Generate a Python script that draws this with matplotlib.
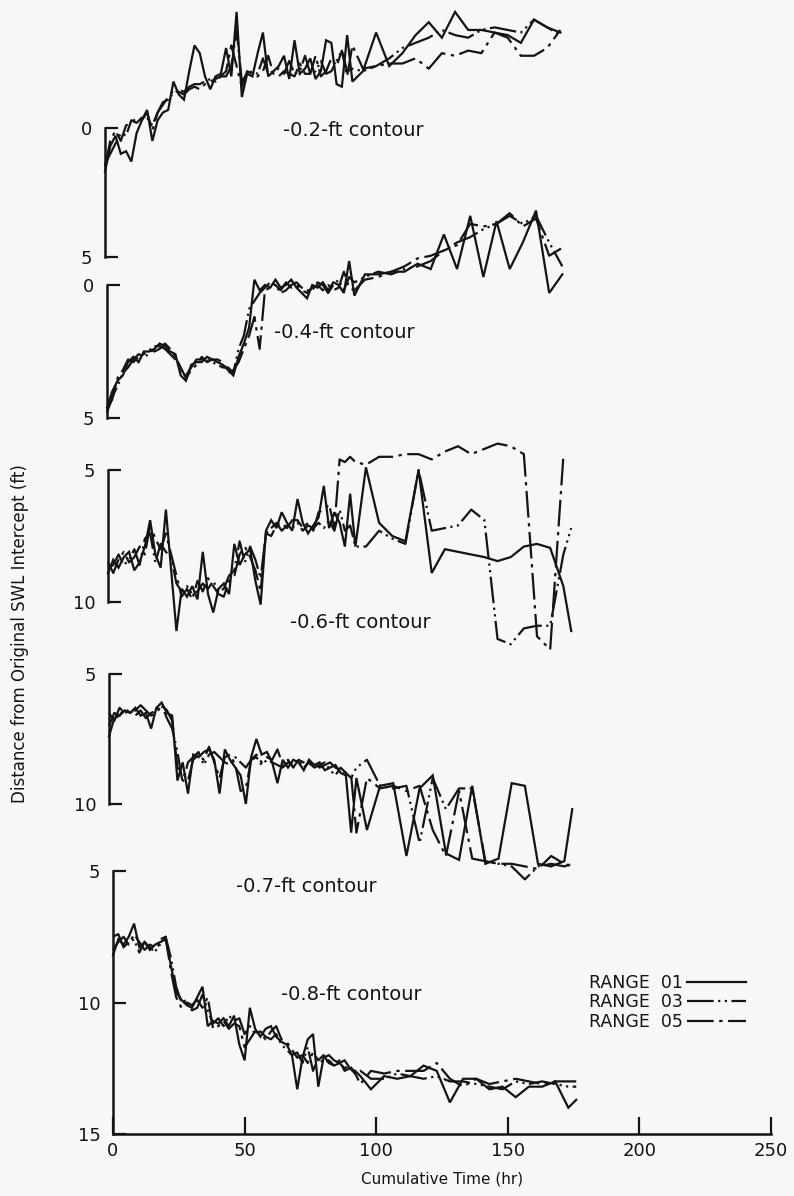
import numpy as np
import matplotlib.pyplot as plt
from matplotlib.lines import Line2D

# cumulative time (hr) of each survey
hours = [0, 2, 4, 6, 8, 10, 12, 14, 16, 18, 20, 22, 24,
         26, 28, 30, 32, 34, 36, 38, 40, 42, 44, 46, 48, 50,
         52, 54, 56, 58, 60, 62, 64, 66, 68, 70, 72, 74, 76,
         78, 80, 82, 84, 86, 88, 90, 92, 94, 98, 103, 108, 113,
         118, 123, 128, 133, 138, 143, 148, 153, 158, 163, 168, 173, 176]

nan = np.nan

# -0.2-ft contour (ft)
c02_r01 = [1.7, 0.7, 0.3, 1.0, 0.9, 1.3, 0.2, -0.3, -0.7, 0.5, -0.3, -0.6, -0.7,
           -1.8, -1.3, -1.1, -2.2, -3.2, -2.9, -2.0, -1.5, -2.0, -2.1, -3.1, -2.0, -4.5,
           -1.2, -2.1, -2.0, -2.9, -3.7, -2.0, -2.2, -2.4, -2.8, -1.9, -3.4, -2.1, -2.3,
           -2.7, -1.9, -2.2, -3.4, -3.3, -1.7, -1.6, -3.6, -1.8, -2.2, -3.7, -2.4, -2.9,
           -3.6, -4.1, -3.5, -4.5, -3.8, -3.8, -3.7, -3.6, -3.3, -4.2, -3.9, -3.7, nan]
c02_r03 = [1.4, 1.0, 0.6, 0.2, 0.3, -0.3, -0.2, -0.4, -0.4, -0.1, -0.6, -0.9, -1.2,
           -1.3, -1.5, -1.4, -1.6, -1.7, -1.7, -1.8, -1.9, -1.8, -2.0, -2.0, -2.4, -3.8,
           -1.8, -2.1, -2.2, -2.1, -2.7, -2.1, -2.2, -2.3, -2.1, -2.6, -2.1, -2.2, -2.8,
           -2.1, -2.2, -2.6, -2.1, -2.2, -2.6, -3.0, -2.2, -2.3, -2.2, -2.4, -2.7, -3.1,
           -3.3, -3.5, -3.8, -3.6, -3.5, -3.8, -3.9, -3.8, -3.7, -4.2, -3.9, -3.6, nan]
c02_r05 = [1.5, 0.5, 0.1, 0.5, -0.1, -0.2, -0.4, -0.3, -0.6, 0.1, -0.6, -1.0, -1.1,
           -1.5, -1.4, -1.3, -1.5, -1.6, -1.5, -1.7, -1.8, -1.9, -2.0, -2.2, -3.2, -2.4,
           -1.6, -2.2, -2.1, -2.0, -2.2, -2.8, -2.1, -2.0, -2.2, -2.1, -2.0, -2.5, -2.1,
           -2.1, -2.8, -2.0, -2.2, -2.7, -2.4, -3.0, -2.0, -3.2, -2.3, -2.4, -2.5, -2.5,
           -2.7, -2.3, -2.9, -2.8, -3.0, -2.9, -3.7, -3.5, -2.8, -2.8, -3.1, -3.8, nan]

# -0.4-ft contour (ft)
c04_r01 = [4.6, 4.0, 3.6, 3.4, 2.9, 2.7, 2.9, 2.5, 2.5, 2.4, 2.2, 2.3, 2.5,
           2.6, 3.4, 3.6, 3.0, 2.9, 2.9, 2.7, 2.8, 2.9, 3.0, 3.2, 3.4, 2.7,
           2.2, 1.6, -0.2, 0.2, 0.0, 0.1, -0.2, 0.1, 0.0, -0.2, 0.1, 0.3, 0.5,
           0.0, 0.1, -0.1, 0.2, -0.1, 0.0, 0.3, -0.9, 0.4, -0.4, -0.4, -0.5, -0.5,
           -0.8, -0.6, -1.9, -0.6, -2.6, -0.3, -2.4, -0.6, -1.6, -2.8, 0.3, -0.4, nan]
c04_r03 = [4.8, 4.2, 3.8, 3.3, 3.1, 2.8, 2.6, 2.7, 2.6, 2.3, 2.3, 2.4, 2.6,
           2.8, 3.2, 3.4, 3.1, 2.8, 2.8, 2.8, 2.9, 3.0, 3.1, 3.1, 3.3, 2.4,
           1.9, 0.9, 0.6, 0.3, 0.1, -0.1, 0.0, 0.3, 0.2, 0.0, -0.1, 0.1, 0.2,
           0.2, -0.1, 0.0, 0.3, 0.0, -0.2, 0.2, -0.3, -0.1, -0.3, -0.5, -0.4, -0.6,
           -0.7, -0.9, -1.3, -1.6, -1.8, -2.1, -2.3, -2.6, -2.3, -2.6, -1.6, -0.7, nan]
c04_r05 = [4.7, 4.3, 3.5, 3.2, 2.8, 2.9, 2.7, 2.6, 2.4, 2.5, 2.4, 2.2, 2.4,
           2.7, 3.1, 3.5, 3.2, 3.0, 2.7, 2.9, 2.8, 2.8, 2.9, 3.3, 3.2, 2.9,
           2.4, 1.9, 1.2, 2.4, 0.2, 0.1, 0.0, 0.2, -0.1, 0.1, 0.0, 0.2, 0.3,
           0.1, 0.0, 0.2, 0.0, 0.2, 0.1, -0.5, 0.1, 0.2, -0.2, -0.3, -0.5, -0.7,
           -1.0, -1.1, -1.3, -1.5, -2.3, -2.2, -2.3, -2.7, -2.2, -2.5, -1.1, -1.4, nan]

# -0.6-ft contour (ft)
c06_r01 = [8.9, 8.4, 8.7, 8.3, 8.1, 8.8, 8.5, 7.9, 6.9, 8.2, 8.7, 6.5, 8.8,
           11.1, 9.5, 9.8, 9.4, 9.9, 8.1, 9.7, 10.4, 9.5, 9.3, 9.7, 7.8, 8.6,
           8.2, 8.0, 9.2, 10.1, 7.3, 6.9, 7.2, 6.6, 7.0, 7.3, 6.1, 7.0, 7.4,
           7.1, 6.8, 5.6, 7.2, 6.6, 7.0, 7.9, 5.9, 7.9, 4.9, 7.0, 7.5, 7.7,
           5.0, 8.9, 8.0, 8.1, 8.2, 8.3, 8.45, 8.3, 7.9, 7.8, 7.95, 9.4, 11.1]
c06_r03 = [8.7, 8.6, 8.2, 8.6, 8.4, 8.0, 8.6, 7.6, 7.4, 8.5, 7.8, 8.1, 8.3,
           9.3, 9.6, 9.4, 9.7, 9.6, 9.3, 9.5, 9.2, 9.6, 9.5, 9.0, 8.8, 7.7,
           8.5, 7.9, 8.4, 9.1, 7.4, 7.2, 7.0, 7.3, 7.1, 7.2, 7.0, 7.3, 7.1,
           7.2, 7.0, 7.2, 6.9, 7.3, 6.5, 7.3, 7.1, 7.9, 7.9, 7.3, 7.6, 7.8,
           5.0, 7.3, 7.2, 7.1, 6.5, 6.9, 11.4, 11.6, 11.0, 10.9, 10.9, 8.2, 7.2]
c06_r05 = [8.5, 8.9, 8.4, 8.1, 8.5, 8.3, 7.9, 8.2, 7.1, 7.6, 8.0, 7.4, 8.2,
           9.0, 9.8, 9.5, 9.9, 9.2, 9.6, 9.1, 9.4, 9.7, 9.8, 9.2, 9.0, 8.2,
           7.9, 8.3, 8.8, 9.6, 7.4, 7.5, 7.1, 7.0, 7.2, 6.9, 6.9, 7.2, 7.0,
           7.3, 6.6, 6.5, 6.3, 7.2, 4.6, 4.7, 4.5, 4.7, 4.8, 4.5, 4.5, 4.4,
           4.4, 4.6, 4.3, 4.1, 4.4, 4.2, 4.0, 4.1, 4.4, 11.3, 11.8, 4.5, nan]

# -0.7-ft contour (ft)
c07_r01 = [7.4, 6.7, 6.6, 6.4, 6.5, 6.3, 6.6, 6.5, 7.1, 6.3, 6.1, 6.5, 6.6,
           9.1, 8.4, 9.6, 8.1, 8.2, 8.0, 7.9, 8.3, 9.6, 7.9, 8.3, 8.6, 8.9,
           10.0, 8.2, 7.5, 8.1, 8.0, 8.4, 9.2, 8.3, 8.6, 8.3, 8.4, 8.7, 8.3,
           8.5, 8.4, 8.7, 8.6, 8.5, 8.8, 8.9, 11.1, 9.0, 11.0, 9.3, 9.2, 12.0,
           9.4, 8.9, 11.9, 12.15, 9.3, 12.3, 12.1, 9.2, 9.3, 12.3, 12.4, 12.2, 10.2]
c07_r03 = [6.5, 6.8, 6.3, 6.5, 6.4, 6.6, 6.4, 6.7, 6.5, 6.4, 6.2, 6.7, 7.1,
           8.0, 9.2, 8.4, 8.2, 8.0, 8.5, 8.1, 8.0, 8.2, 8.4, 8.5, 8.2, 8.4,
           8.6, 8.3, 8.2, 8.5, 8.3, 8.4, 8.5, 8.6, 8.4, 8.5, 8.3, 8.6, 8.4,
           8.6, 8.5, 8.4, 8.7, 8.9, 8.6, 8.8, 9.0, 8.6, 8.3, 9.3, 9.4, 9.3,
           11.5, 9.0, 10.2, 9.4, 9.4, 12.2, 12.3, 12.4, 12.9, 12.4, 12.3, 12.4, 12.3]
c07_r05 = [7.0, 6.5, 6.6, 6.3, 6.5, 6.4, 6.2, 6.4, 6.6, 6.5, 6.2, 6.4, 6.8,
           8.6, 8.8, 9.1, 8.3, 8.1, 8.3, 7.8, 8.4, 9.0, 8.2, 8.1, 8.5, 9.5,
           9.4, 8.3, 8.1, 8.4, 8.2, 8.3, 7.9, 8.5, 8.3, 8.6, 8.3, 8.4, 8.5,
           8.4, 8.6, 8.5, 8.4, 8.6, 8.7, 8.8, 8.9, 11.1, 9.0, 9.4, 9.3, 9.5,
           9.3, 11.0, 12.0, 9.5, 12.1, 12.2, 12.3, 12.3, 12.4, 12.5, 12.0, 12.3, 12.4]

# -0.8-ft contour (ft)
c08_r01 = [8.2, 7.6, 7.8, 7.5, 7.0, 7.9, 7.7, 8.0, 7.8, 7.7, 7.6, 8.6, 9.6,
           9.9, 10.1, 10.2, 9.8, 9.4, 10.9, 10.7, 10.8, 10.6, 10.9, 10.5, 11.6, 12.2,
           10.2, 11.0, 11.3, 11.0, 10.9, 11.3, 11.5, 11.6, 12.0, 13.3, 12.1, 11.4, 11.2,
           13.2, 12.1, 12.0, 12.2, 12.3, 12.2, 12.5, 12.6, 12.8, 13.3, 12.8, 12.9, 12.8,
           12.4, 12.6, 13.8, 12.9, 12.9, 13.3, 13.2, 13.6, 13.2, 13.2, 13.0, 14.0, 13.7]
c08_r03 = [7.5, 7.4, 7.9, 7.7, 7.6, 8.1, 7.7, 7.9, 8.1, 7.6, 7.5, 8.3, 9.4,
           10.0, 9.9, 10.3, 10.2, 9.7, 10.3, 10.8, 10.6, 10.9, 10.5, 10.7, 10.6, 11.2,
           10.9, 11.2, 11.1, 11.3, 11.4, 11.2, 11.6, 11.8, 12.0, 11.9, 12.3, 11.7, 12.6,
           12.1, 12.3, 12.2, 12.4, 12.3, 12.5, 12.4, 12.7, 12.6, 12.9, 12.9, 12.7, 12.8,
           12.9, 12.8, 13.0, 13.0, 13.1, 13.2, 13.3, 13.0, 13.1, 13.0, 13.1, 13.2, 13.2]
c08_r05 = [8.0, 7.7, 7.5, 7.8, 7.4, 7.7, 8.0, 7.8, 7.9, 7.8, 7.5, 8.8, 9.8,
           10.2, 10.0, 10.1, 9.9, 10.2, 9.8, 11.0, 10.9, 10.7, 11.0, 10.8, 10.9, 11.7,
           11.4, 11.1, 11.2, 11.4, 11.1, 10.9, 11.4, 11.5, 11.8, 12.1, 12.0, 12.3, 11.9,
           12.2, 12.0, 12.3, 12.4, 12.2, 12.6, 12.5, 12.7, 13.1, 12.6, 12.7, 12.6, 12.6,
           12.6, 12.3, 12.9, 13.2, 12.9, 13.1, 13.0, 12.9, 13.0, 13.1, 13.0, 13.0, 13.0]

contour_names = ["-0.2-ft contour", "-0.4-ft contour", "-0.6-ft contour",
                 "-0.7-ft contour", "-0.8-ft contour"]
range_names = ["RANGE  01", "RANGE  03", "RANGE  05"]
x_ticks = [0, 50, 100, 150, 200, 250]

W, H = 794, 1196
BG = "#f7f7f5"
INK = "#141414"
styles = ["-", (0, (12, 2, 1, 2, 1, 2)), (0, (12, 2.5, 1.5, 2.5))]

fig = plt.figure(figsize=(W / 100, H / 100), dpi=100, facecolor=BG)

# (series, y ticks, pixel of first/last tick, left edge px, label pos px)
panels = [
    ((c02_r01, c02_r03, c02_r05), [0, 5], (128, 257), 105, (283, 130)),
    ((c04_r01, c04_r03, c04_r05), [0, 5], (285, 418), 107, (274, 332)),
    ((c06_r01, c06_r03, c06_r05), [5, 10], (470, 602), 108, (290, 622)),
    ((c07_r01, c07_r03, c07_r05), [5, 10], (674, 804), 109, (236, 887)),
    ((c08_r01, c08_r03, c08_r05), [5, 10, 15], (871, 1134), 113, (281, 995)),
]

x_px = 658  # 0..250 hr
for i, (series, yt, (ya, yb), left, (lx, ly)) in enumerate(panels):
    last = i == len(panels) - 1
    bottom = 1134 if last else H
    scale = (yt[-1] - yt[0]) / (yb - ya)
    v_top = yt[0] - ya * scale
    v_bot = yt[0] + (bottom - ya) * scale
    ax = fig.add_axes([left / W, (H - bottom) / H, x_px / W, bottom / H])
    ax.patch.set_visible(False)
    ax.set_xlim(0, 250)
    ax.set_ylim(v_bot, v_top)

    for vals, ls in zip(series, styles):
        ax.plot(hours, np.array(vals, dtype=float), color=INK, lw=1.6,
                ls=ls, solid_joinstyle="miter", clip_on=False)

    for s in ["top", "right"]:
        ax.spines[s].set_visible(False)
    ax.spines["left"].set_bounds(yt[0], yt[-1])
    ax.spines["left"].set_linewidth(1.8)
    ax.spines["left"].set_color(INK)
    ax.set_yticks(yt)
    ax.set_yticklabels([str(v) for v in yt])
    ax.tick_params(axis="y", direction="in", length=9, width=1.6,
                   pad=9, labelsize=13, colors=INK)
    if last:
        ax.spines["bottom"].set_linewidth(1.8)
        ax.spines["bottom"].set_color(INK)
        ax.set_xticks(x_ticks)
        ax.tick_params(axis="x", direction="in", length=12, width=1.6,
                       pad=6, labelsize=13, colors=INK)
        ax.set_xlabel("Cumulative Time (hr)", fontsize=11, color=INK, labelpad=8)
    else:
        ax.spines["bottom"].set_visible(False)
        ax.set_xticks([])

    fig.text(lx / W, 1 - ly / H, contour_names[i], fontsize=14,
             ha="left", va="center", color=INK)

fig.text(20 / W, 1 - 634 / H, "Distance from Original SWL Intercept (ft)",
         rotation=90, fontsize=12, ha="center", va="center", color=INK)

handles = [Line2D([], [], color=INK, lw=1.6, ls=ls) for ls in styles]
fig.legend(handles, range_names, loc="upper left",
           bbox_to_anchor=(580 / W, 1 - 965 / H), markerfirst=False,
           frameon=False, fontsize=12.5, handlelength=3.4, handletextpad=0.25,
           labelspacing=0.1, borderpad=0, labelcolor=INK)

fig.savefig("out.png", dpi=100, facecolor=BG)
